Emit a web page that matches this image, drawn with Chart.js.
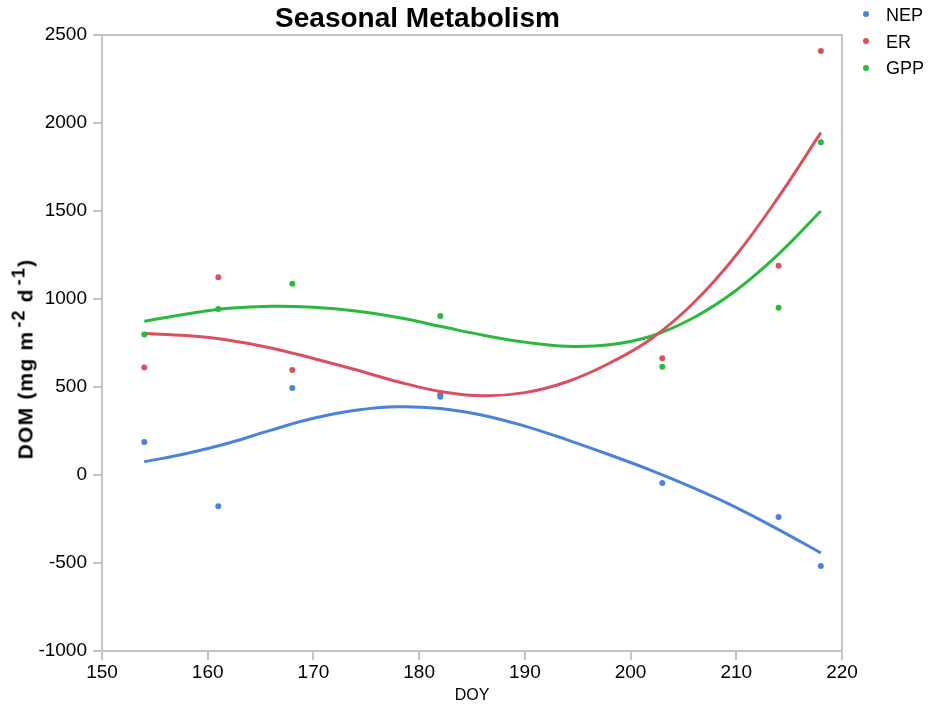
<!DOCTYPE html>
<html>
<head>
<meta charset="utf-8">
<script src="https://cdn.jsdelivr.net/npm/chart.js@4"></script>
<style>
  body { margin: 0; background: #fff; font-family: "Liberation Sans", Arial, Helvetica, sans-serif; }
  #wrap { position: relative; width: 929px; height: 705px; }
  #title { position: absolute; left: 0; top: 4px; width: 835px; text-align: center; font-weight: bold; font-size: 28px; line-height: 28px; color: #000; }
  #ytitle { position: absolute; left: 23px; top: 359px; transform: translate(-50%, -50%) rotate(-90deg); white-space: nowrap; font-weight: bold; font-size: 21px; letter-spacing: 1.2px; color: #000; }
  #ytitle sup { font-size: 18px; margin-left: 3px; }
  .leg { position: absolute; left: 863px; font-size: 18px; line-height: 20px; color: #000; }
  .leg span { display: inline-block; width: 6px; height: 6px; border-radius: 50%; margin-right: 17px; vertical-align: middle; position: relative; top: -2px; }
</style>
</head>
<body>
<div id="wrap">
  <canvas id="c"></canvas>
  <div id="title">Seasonal Metabolism</div>
  <div id="ytitle">DOM (mg m<sup>-2</sup> d<sup>-1</sup>)</div>
</div>
<script>
// measured points
const doy = [154, 161, 168, 182, 203, 214, 218];
const nep = [188, -177, 495, 444, -45, -238, -517];
const er = [611, 1123, 596, 458, 664, 1189, 2409];
const gpp = [799, 943, 1086, 903, 615, 950, 1890];

// fitted curves
const fitDoy = [154, 158, 162, 166, 170, 174, 178, 182, 186, 190, 194, 198, 202, 206, 210, 214, 218];
const nepFit = [75, 122, 182, 255, 322, 368, 388, 378, 340, 278, 200, 115, 25, -75, -185, -310, -443];
const erFit = [804, 792, 766, 722, 662, 598, 530, 475, 450, 468, 530, 635, 776, 980, 1250, 1580, 1945];
const gppFit = [874, 915, 947, 959, 953, 932, 895, 845, 795, 755, 731, 740, 790, 895, 1050, 1255, 1500];

const xTicks = [150, 160, 170, 180, 190, 200, 210, 220];
const yTicks = [-1000, -500, 0, 500, 1000, 1500, 2000, 2500];

const seriesNames = ['NEP', 'ER', 'GPP'];
const colors = ['#4a82dc', '#d9505f', '#2cb83c'];

const pts = (xs, ys) => xs.map((x, i) => ({ x: x, y: ys[i] }));
const raw = [nep, er, gpp];
const fits = [nepFit, erFit, gppFit];

const datasets = [];
seriesNames.forEach((name, i) => {
    datasets.push({
        type: 'scatter',
        label: name,
        data: pts(doy, raw[i]),
        backgroundColor: colors[i],
        borderWidth: 0,
        pointRadius: 3,
        pointHoverRadius: 3,
        order: 0
    });
    datasets.push({
        type: 'line',
        label: name + ' fit',
        data: pts(fitDoy, fits[i]),
        borderColor: colors[i],
        borderWidth: 3,
        pointRadius: 0,
        fill: false,
        tension: 0.4,
        order: 1
    });
});

const axisGray = '#c4c4c4';
const tickFont = { family: '"Liberation Sans", Arial, Helvetica, sans-serif', size: 19 };

new Chart(document.getElementById('c'), {
    type: 'scatter',
    data: { datasets: datasets },
    options: {
        responsive: true,
        maintainAspectRatio: false,
        animation: false,
        layout: { padding: { top: 35, right: 87, left: 0, bottom: 0 } },
        plugins: {
            legend: { display: false },
            title: { display: false },
            tooltip: { enabled: false }
        },
        scales: {
            x: {
                type: 'linear',
                min: 150, max: 220,
                afterBuildTicks: s => { s.ticks = xTicks.map(v => ({ value: v })); },
                afterFit: s => { s.height = 54; },
                grid: { drawOnChartArea: false, color: axisGray, lineWidth: 2, tickLength: 9 },
                border: { color: axisGray, width: 2 },
                ticks: { color: '#000', font: tickFont, padding: 1, maxRotation: 0, callback: v => String(v) },
                title: { display: true, text: 'DOY', color: '#000', font: { family: tickFont.family, size: 16 }, padding: { top: 0, bottom: 0 } }
            },
            y: {
                type: 'linear',
                min: -1000, max: 2500,
                afterBuildTicks: s => { s.ticks = yTicks.map(v => ({ value: v })); },
                afterFit: s => { s.width = 102; },
                grid: { drawOnChartArea: false, color: axisGray, lineWidth: 2, tickLength: 9 },
                border: { color: axisGray, width: 2 },
                ticks: { color: '#000', font: tickFont, padding: 6, callback: v => String(v) }
            },
            x2: {
                type: 'linear', position: 'top',
                min: 150, max: 220,
                afterFit: s => { s.height = 0; },
                grid: { display: false, drawTicks: false },
                border: { color: axisGray, width: 2 },
                ticks: { display: false }
            },
            y2: {
                type: 'linear', position: 'right',
                min: -1000, max: 2500,
                afterFit: s => { s.width = 0; },
                grid: { display: false, drawTicks: false },
                border: { color: axisGray, width: 2 },
                ticks: { display: false }
            }
        }
    }
});

// legend
const wrap = document.getElementById('wrap');
seriesNames.forEach((name, i) => {
    const d = document.createElement('div');
    d.className = 'leg';
    d.style.top = (5 + i * 26.7) + 'px';
    d.innerHTML = '<span style="background:' + colors[i] + '"></span>' + name;
    wrap.appendChild(d);
});
</script>
</body>
</html>
